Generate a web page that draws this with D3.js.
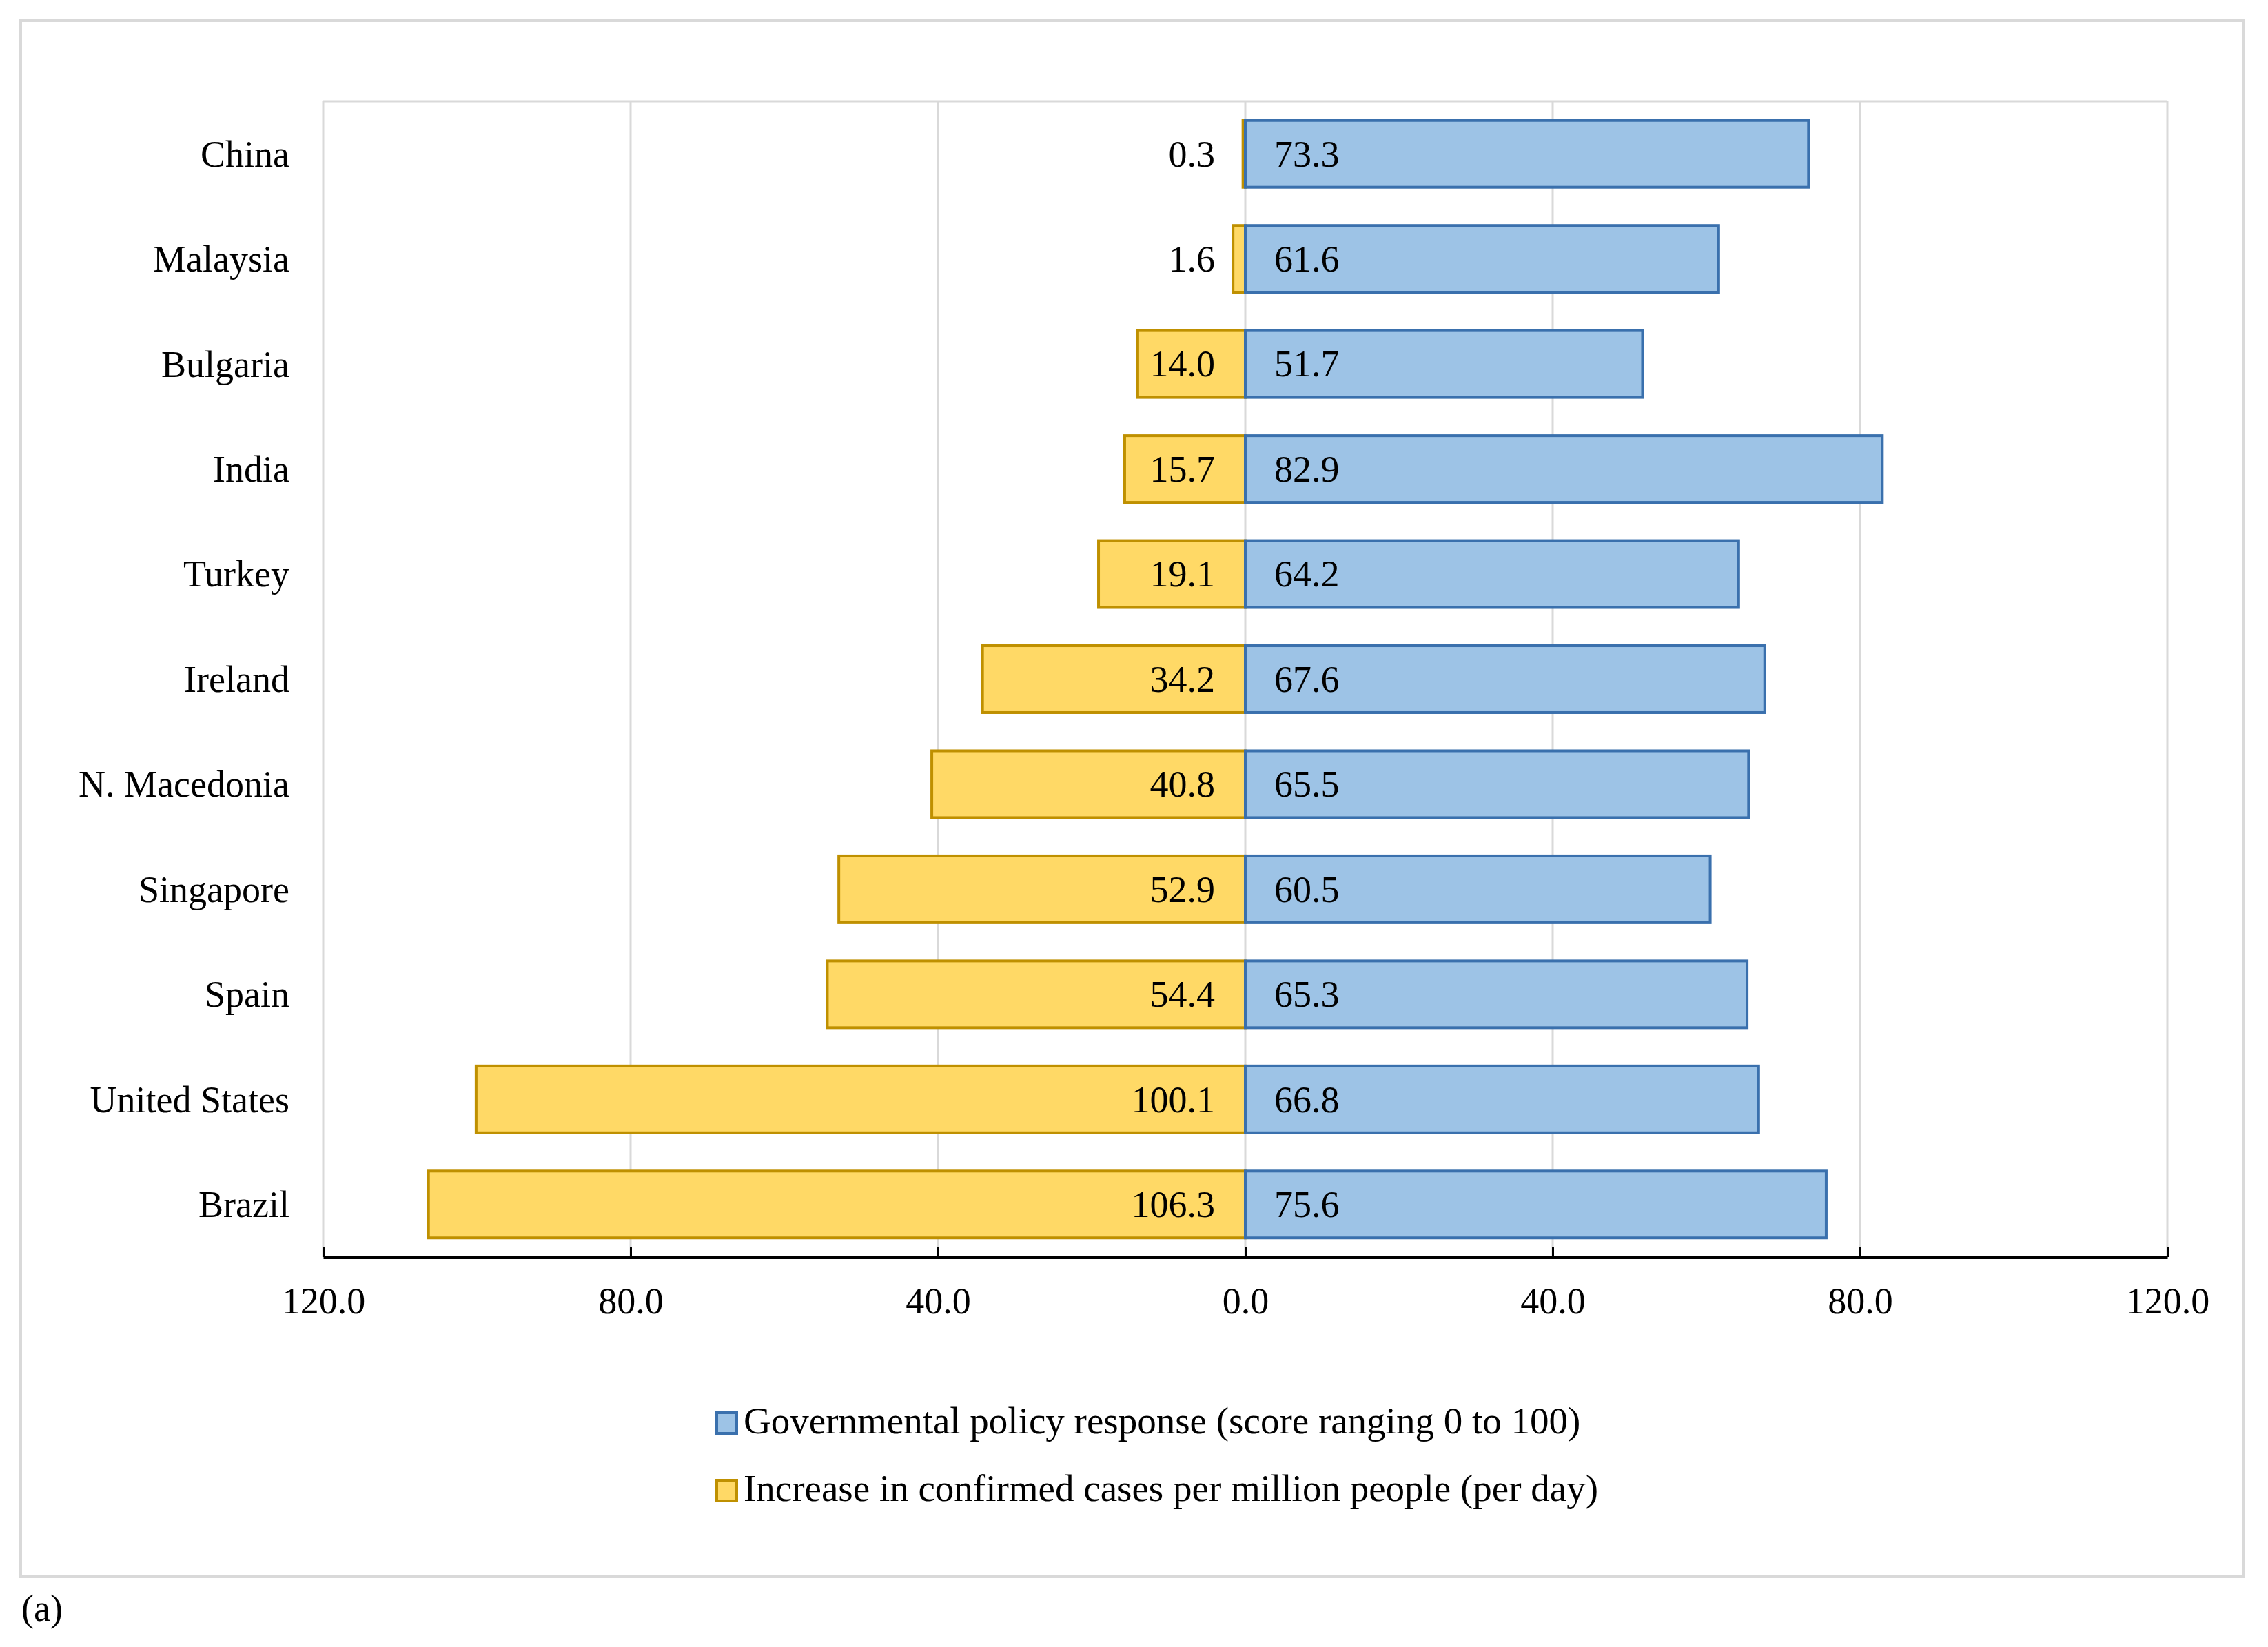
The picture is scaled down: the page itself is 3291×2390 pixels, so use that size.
<!DOCTYPE html>
<html>
<head>
    <title>Policy response vs confirmed cases</title>
    <script src="https://d3js.org/d3.v7.min.js"></script>
    <style>
        body { margin: 0; background: #fff; }
        text { font-family: "Liberation Serif", "Times New Roman", serif; fill: #000; }
    </style>
</head>
<body>
    <div id="chart"></div>

    <script>
        // data
        var countries = ["China", "Malaysia", "Bulgaria", "India", "Turkey", "Ireland",
                         "N. Macedonia", "Singapore", "Spain", "United States", "Brazil"];
        var policyScore = [73.3, 61.6, 51.7, 82.9, 64.2, 67.6, 65.5, 60.5, 65.3, 66.8, 75.6];
        var casesIncrease = [0.3, 1.6, 14.0, 15.7, 19.1, 34.2, 40.8, 52.9, 54.4, 100.1, 106.3];
        var xTicks = [-120, -80, -40, 0, 40, 80, 120];
        var seriesNames = ["Governmental policy response (score ranging 0 to 100)",
                           "Increase in confirmed cases per million people (per day)"];

        var W = 3291, H = 2390;
        var plot = {left: 469, right: 3145, top: 147, bottom: 1824};
        var blue = {fill: "#9dc3e6", stroke: "#3a70ad"};
        var gold = {fill: "#ffd966", stroke: "#bf9000"};
        var fontSize = 54;

        var svg = d3.select("#chart")
                    .append("svg")
                    .attr("width", W)
                    .attr("height", H);

        svg.append("rect")
           .attr("width", W).attr("height", H)
           .attr("fill", "#fff");

        // outer chart frame
        svg.append("rect")
           .attr("x", 30).attr("y", 30)
           .attr("width", 3225).attr("height", 2258)
           .attr("fill", "none")
           .attr("stroke", "#d9d9d9")
           .attr("stroke-width", 4);

        var x = d3.scaleLinear()
                  .domain([-120, 120])
                  .range([plot.left, plot.right]);

        var y = d3.scaleBand()
                  .domain(countries)
                  .range([plot.top, plot.bottom])
                  .paddingInner(0.364)
                  .paddingOuter(0.182);

        var rows = countries.map(function(c, i) {
            return {name: c, policy: policyScore[i], cases: casesIncrease[i]};
        });

        // gridlines + plot border
        svg.append("g")
           .selectAll("line")
           .data(xTicks)
           .enter()
           .append("line")
           .attr("x1", function(d) { return x(d); })
           .attr("x2", function(d) { return x(d); })
           .attr("y1", plot.top)
           .attr("y2", plot.bottom)
           .attr("stroke", "#d9d9d9")
           .attr("stroke-width", 3);

        svg.append("line")
           .attr("x1", plot.left).attr("x2", plot.right)
           .attr("y1", plot.top).attr("y2", plot.top)
           .attr("stroke", "#d9d9d9")
           .attr("stroke-width", 3);

        // cases bars (to the left)
        svg.append("g")
           .selectAll("rect")
           .data(rows)
           .enter()
           .append("rect")
           .attr("x", function(d) { return x(-d.cases); })
           .attr("y", function(d) { return y(d.name); })
           .attr("width", function(d) { return x(0) - x(-d.cases); })
           .attr("height", y.bandwidth())
           .attr("fill", gold.fill)
           .attr("stroke", gold.stroke)
           .attr("stroke-width", 4);

        // policy bars (to the right)
        svg.append("g")
           .selectAll("rect")
           .data(rows)
           .enter()
           .append("rect")
           .attr("x", x(0))
           .attr("y", function(d) { return y(d.name); })
           .attr("width", function(d) { return x(d.policy) - x(0); })
           .attr("height", y.bandwidth())
           .attr("fill", blue.fill)
           .attr("stroke", blue.stroke)
           .attr("stroke-width", 4);

        // value labels
        svg.append("g")
           .selectAll("text")
           .data(rows)
           .enter()
           .append("text")
           .attr("x", x(0) - 44)
           .attr("y", function(d) { return y(d.name) + y.bandwidth() / 2; })
           .attr("dy", "0.34em")
           .attr("text-anchor", "end")
           .style("font-size", fontSize + "px")
           .text(function(d) { return d.cases.toFixed(1); });

        svg.append("g")
           .selectAll("text")
           .data(rows)
           .enter()
           .append("text")
           .attr("x", x(0) + 42)
           .attr("y", function(d) { return y(d.name) + y.bandwidth() / 2; })
           .attr("dy", "0.34em")
           .style("font-size", fontSize + "px")
           .text(function(d) { return d.policy.toFixed(1); });

        // category labels
        var yAxis = d3.axisLeft(y).tickSize(0).tickPadding(49);
        var yg = svg.append("g")
                    .attr("transform", "translate(" + plot.left + ",0)")
                    .call(yAxis);
        yg.select(".domain").remove();
        yg.selectAll("text")
          .attr("dy", "0.34em")
          .style("font-size", fontSize + "px")
          .style("font-family", "Liberation Serif");

        // x axis, ticks inside, absolute values
        var xAxis = d3.axisTop(x)
                      .tickValues(xTicks)
                      .tickSize(14)
                      .tickSizeOuter(0)
                      .tickFormat(function(d) { return Math.abs(d).toFixed(1); });
        var xg = svg.append("g")
                    .attr("transform", "translate(0," + plot.bottom + ")")
                    .call(xAxis);
        xg.select(".domain")
          .attr("stroke", "#000")
          .attr("stroke-width", 5);
        xg.selectAll(".tick line")
          .attr("stroke", "#000")
          .attr("stroke-width", 3);
        xg.selectAll(".tick text")
          .attr("y", 82)
          .attr("dy", 0)
          .style("font-size", fontSize + "px")
          .style("font-family", "Liberation Serif");

        // legend
        var legend = svg.append("g")
                        .selectAll("g")
                        .data([blue, gold])
                        .enter()
                        .append("g")
                        .attr("transform", function(d, i) { return "translate(1040," + (2050 + i * 98) + ")"; });
        legend.append("rect")
              .attr("width", 29).attr("height", 30)
              .attr("fill", function(d) { return d.fill; })
              .attr("stroke", function(d) { return d.stroke; })
              .attr("stroke-width", 4);
        legend.append("text")
              .attr("x", 39)
              .attr("y", 30)
              .style("font-size", "55px")
              .text(function(d, i) { return seriesNames[i]; });

        svg.append("text")
           .attr("x", 31)
           .attr("y", 2352)
           .style("font-size", "54px")
           .text("(a)");
    </script>
</body>
</html>
